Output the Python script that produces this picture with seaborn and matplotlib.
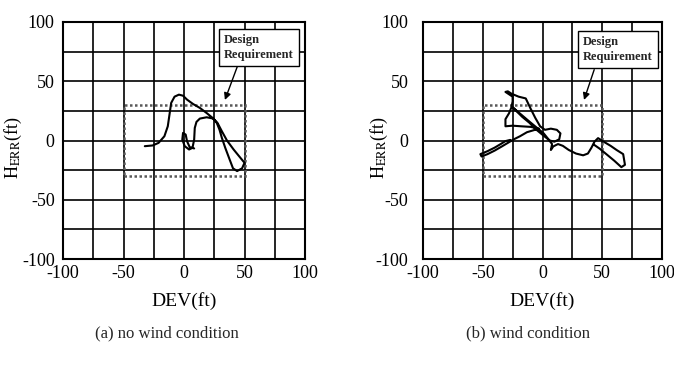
import numpy as np
import pandas as pd
import matplotlib
matplotlib.use("Agg")
import matplotlib.pyplot as plt
from matplotlib.patches import Rectangle
import seaborn as sns

# ---- data ----
a_dev = [-32.4, -26, -21, -16.2, -13.4, -12, -10.6, -7.8, -4.2, -0.8, 2.5, 7.5, 13.1, 18.7,
         23.7, 27.1, 29.3, 31.3, 34.1, 37.7, 40.5, 43.9, 48, 50, 46.6, 41, 35.5, 31.3, 27.7,
         24.3, 18.7, 13.1, 10.3, 8.9, 8.4, 7, 4.2, 0.6, -1.4, -0.8, 1.4, 2.5, 4.7, 8.4]
a_herr = [-4.8, -4.2, -2, 3.6, 12, 21.8, 31.7, 37, 38.7, 37.8, 34.5, 30.8, 27.5, 23.2,
          19, 14.8, 9.2, 2.2, -6.2, -16, -23.5, -25.8, -23.5, -18.8, -14.6, -7.6, 0, 7.8, 14.8,
          18.5, 19.6, 18.5, 15.7, 10.6, 0.8, -6.2, -7.6, -4.8, 0.8, 6.4, 5, -0.6, -5.6, -6.7]

b_dev = [-27, -31, -35, -40, -46, -52, -51, -46, -40, -34, -29,
         -24, -19, -13, -8, -3,
         -10, -18, -25, -31,
         -31, -28, -26, -25, -25,
         -28, -31, -29, -26, -20, -14,
         -10, -6, -2, 2, 7, 12, 15, 14, 10, 6, 1,
         -5, -11, -17, -21, -25,
         -18, -11, -5, 1, 5, 8, 7,
         9, 13, 17, 22, 28, 34, 38, 41, 43.5, 46.5,
         52, 57, 62, 67.5, 69, 66, 60, 54, 48, 43]
b_herr = [0.5, -0.5, -3, -6, -9, -11.5, -13.5, -11.5, -8.5, -5, -2,
          1, 3.5, 7, 8.5, 10,
          11.5, 12, 12.5, 12,
          18, 23, 28, 33, 37,
          39, 41, 41.5, 39.5, 37, 35.5,
          27, 19, 12, 9, 10, 9, 6, 1, -1, 0, 4,
          9, 15, 20, 24, 28,
          22, 16, 11, 6, 1, -3, -8,
          -5, -3, -4.5, -8, -11, -12.5, -11, -6, -1, 2,
          -1.5, -4.5, -8, -11.5, -20.5, -22.5, -17, -12, -7, -3.5]

tick_vals = [-100, -50, 0, 50, 100]
grid_vals = [-100, -75, -50, -25, 0, 25, 50, 75, 100]
req_dev = [-50, 50]
req_herr = [-30, 30]
captions = ["(a) no wind condition", "(b) wind condition"]
note_text = "Design\nRequirement"

sns.set_theme(style="white")
plt.rcParams["font.family"] = ["Liberation Serif", "DejaVu Serif"]
plt.rcParams["mathtext.fontset"] = "stix"
plt.rcParams["axes.unicode_minus"] = False

fig = plt.figure(figsize=(6.74, 3.67), dpi=100)
W, H = 674, 367
axA = fig.add_axes([63 / W, 1 - 259 / H, 242 / W, 237 / H])
axB = fig.add_axes([423 / W, 1 - 259 / H, 239 / W, 237 / H])

panels = [
    (axA, a_dev, a_herr, 6, (33, 78.5), (45, 65), (33, 32)),
    (axB, b_dev, b_herr, 10.5, (34, 76.5), (44, 62), (34, 32)),
]

for ax, xs, ys, ypad, txt_xy, arr_from, arr_to in panels:
    df = pd.DataFrame({"DEV": xs, "HERR": ys})
    ax.set_xlim(-100, 100)
    ax.set_ylim(-100, 100)
    ax.set_xticks(tick_vals)
    ax.set_yticks(tick_vals)
    ax.set_xticks(grid_vals, minor=True)
    ax.set_yticks(grid_vals, minor=True)
    ax.grid(which="both", color="black", lw=1.2, zorder=0)
    ax.set_axisbelow(True)
    for s in ax.spines.values():
        s.set_color("black")
        s.set_linewidth(1.5)
    ax.tick_params(which="both", length=0, labelsize=13, colors="black")
    ax.tick_params(axis="x", pad=4)
    ax.tick_params(axis="y", pad=ypad)

    rect = Rectangle((req_dev[0], req_herr[0]), req_dev[1] - req_dev[0],
                     req_herr[1] - req_herr[0], fill=False, ec="0.35",
                     lw=1.8, ls=(0, (1, 1)), zorder=2)
    ax.add_patch(rect)

    sns.lineplot(data=df, x="DEV", y="HERR", sort=False, estimator=None,
                 color="black", lw=1.5, ax=ax, zorder=3)

    ax.annotate("", xy=arr_to, xytext=arr_from,
                arrowprops=dict(arrowstyle="-|>", color="black", lw=1.0,
                                mutation_scale=10), zorder=4)
    ax.text(txt_xy[0], txt_xy[1], note_text, fontsize=9, fontweight="bold",
            ha="left", va="center", linespacing=1.35, zorder=5,
            bbox=dict(boxstyle="square,pad=0.4", fc="white", ec="black", lw=1.0))

    ax.set_xlabel("DEV(ft)", fontsize=14, color="black")
    ax.set_ylabel(r"H$_{\mathrm{ERR}}$(ft)", fontsize=13, color="black")
    ax.xaxis.set_label_coords(0.5, -0.14)

axA.yaxis.set_label_coords(-0.16, 0.47)
axB.yaxis.set_label_coords(-0.14, 0.47)

fig.text(167 / W, 1 - 333 / H, captions[0], ha="center", va="center", fontsize=12)
fig.text(528 / W, 1 - 333 / H, captions[1], ha="center", va="center", fontsize=12)

fig.savefig("out.png", dpi=100, facecolor="white")
